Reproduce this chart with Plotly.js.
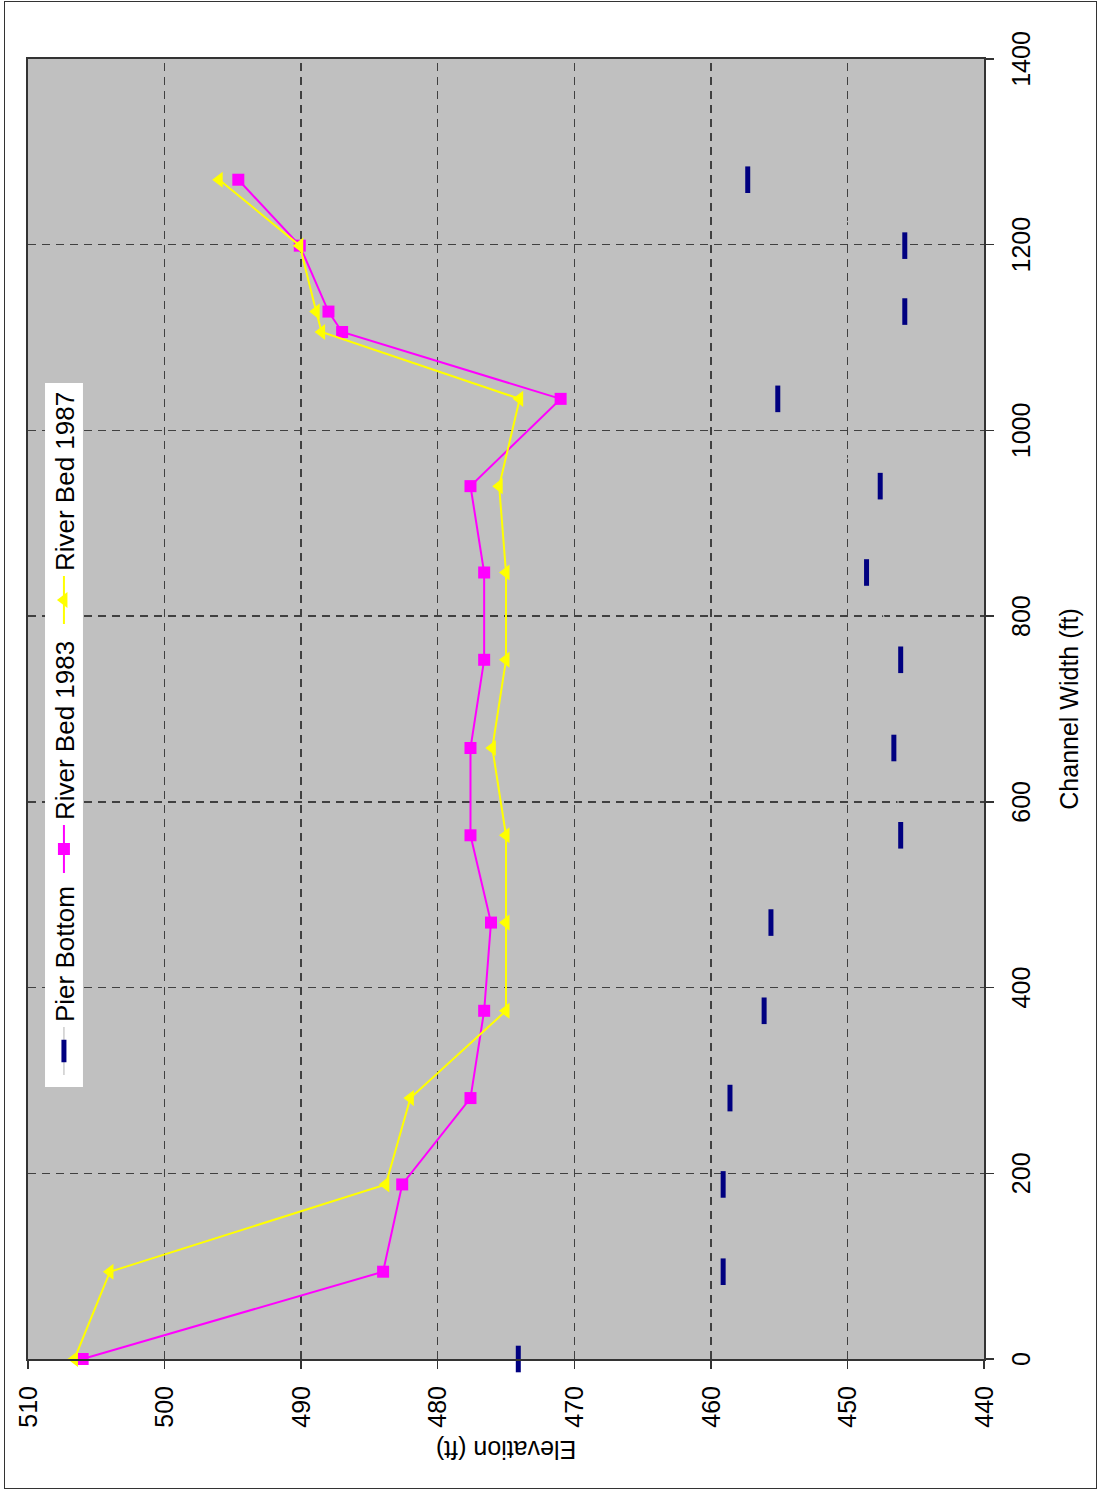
<!DOCTYPE html>
<html>
<head>
<meta charset="utf-8">
<script src="https://cdn.plot.ly/plotly-3.0.1.min.js"></script>
<style>
  html, body { margin: 0; padding: 0; width: 1099px; height: 1491px; overflow: hidden; background: #fff; }
  #frame { position: absolute; left: 4px; top: 1px; width: 1091px; height: 1486px; border: 1.5px solid #333; }
  #chart { position: absolute; left: 0; top: 0; width: 1491px; height: 1099px;
           transform-origin: 0 0; transform: translate(0px, 1491px) rotate(-90deg); }
</style>
</head>
<body>
<div id="frame"></div>
<div id="chart"></div>
<script>
// Channel width stations (ft)
const pierWidth = [0, 94, 188, 281, 375, 470, 564, 658, 753, 847, 940, 1034, 1128, 1199, 1270];
const bedWidth  = [0, 94, 188, 281, 375, 470, 564, 658, 753, 847, 940, 1034, 1106, 1128, 1199, 1270];

// Elevations (ft)
const pierBottom = [474.1, 459.1, 459.1, 458.6, 456.1, 455.6, 446.1, 446.6, 446.1, 448.6, 447.6, 455.1, 445.8, 445.8, 457.3];
const bed1983    = [506.0, 484.0, 482.6, 477.6, 476.6, 476.1, 477.6, 477.6, 476.6, 476.6, 477.6, 471.0, 487.0, 488.0, 490.1, 494.6];
const bed1987    = [506.6, 504.0, 483.8, 482.0, 475.0, 475.0, 475.0, 476.0, 475.0, 475.0, 475.5, 474.0, 488.5, 488.9, 490.1, 496.0];

const seriesNames = ["Pier Bottom", "River Bed 1983", "River Bed 1987"];
const xTicks = [0, 200, 400, 600, 800, 1000, 1200, 1400];
const yTicks = [440, 450, 460, 470, 480, 490, 500, 510];

const FONT = "Liberation Sans, Arial, sans-serif";

const traces = [
  {
    x: pierWidth, y: pierBottom, name: seriesNames[0], type: "scatter", mode: "lines+markers",
    cliponaxis: false, legendwidth: 139,
    line: { color: "#C0C0C0", width: 1.2 },
    marker: { symbol: "line-ew", size: 19, color: "#000080", line: { color: "#000080", width: 5 } }
  },
  {
    x: bedWidth, y: bed1983, name: seriesNames[1], type: "scatter", mode: "lines+markers",
    cliponaxis: false, legendwidth: 186,
    line: { color: "#FF00FF", width: 2 },
    marker: { symbol: "square", size: 12, color: "#FF00FF" }
  },
  {
    x: bedWidth, y: bed1987, name: seriesNames[2], type: "scatter", mode: "lines+markers",
    cliponaxis: false, legendwidth: 186,
    line: { color: "#FFFF00", width: 2 },
    marker: { symbol: "triangle-up", size: 14, color: "#FFFF00" }
  }
];

const layout = {
  width: 1491, height: 1099,
  margin: { l: 132, r: 59, t: 28, b: 115, pad: 0 },
  paper_bgcolor: "rgba(0,0,0,0)",
  plot_bgcolor: "#C0C0C0",
  font: { family: FONT, size: 25, color: "#000" },
  showlegend: true,
  legend: {
    orientation: "h", x: 0.2146, y: 0.9623, xanchor: "left", yanchor: "middle",
    bgcolor: "rgba(0,0,0,0)", borderwidth: 0, font: { family: FONT, size: 26, color: "#000" },
    itemwidth: 48
  },
  shapes: [
    { type: "rect", xref: "paper", yref: "paper", x0: 0.2092, x1: 0.7508, y0: 0.9425, y1: 0.9822,
      fillcolor: "#FFFFFF", line: { width: 0 }, layer: "above" }
  ],
  xaxis: {
    range: [0, 1400], tickvals: xTicks, ticktext: xTicks.map(String),
    showgrid: true, gridcolor: "#404040", gridwidth: 1.3, griddash: "8px,6px",
    zeroline: false, showline: true, mirror: true, linecolor: "#333", linewidth: 2,
    ticks: "outside", ticklen: 8, tickcolor: "#333", tickwidth: 1.3,
    ticklabelstandoff: 6,
    tickfont: { family: FONT, size: 25, color: "#000" },
    title: { text: "Channel Width (ft)", font: { family: FONT, size: 25, color: "#000" }, standoff: 26 }
  },
  yaxis: {
    range: [440, 510], tickvals: yTicks, ticktext: yTicks.map(String),
    showgrid: true, gridcolor: "#404040", gridwidth: 1.3, griddash: "8px,6px",
    zeroline: false, showline: true, mirror: true, linecolor: "#333", linewidth: 2,
    ticks: "outside", ticklen: 8, tickcolor: "#333", tickwidth: 1.3,
    ticklabelstandoff: 12,
    tickfont: { family: FONT, size: 25, color: "#000" },
    title: { text: "Elevation (ft)", font: { family: FONT, size: 25, color: "#000" }, standoff: 6 }
  }
};

Plotly.newPlot("chart", traces, layout, { staticPlot: true, displayModeBar: false });
</script>
</body>
</html>
